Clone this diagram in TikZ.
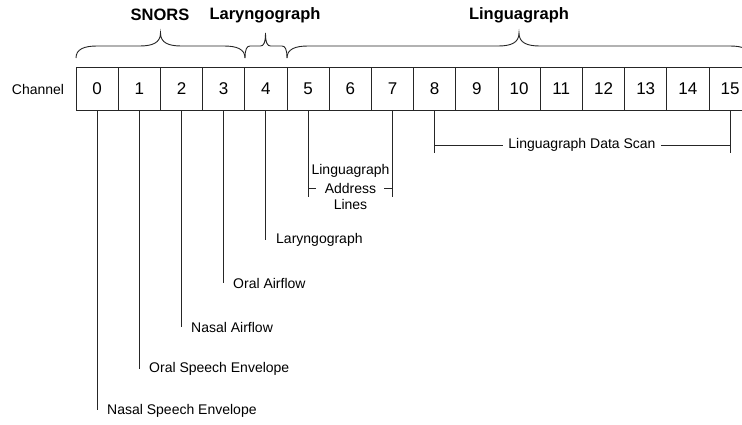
\documentclass[tikz,border=0pt]{standalone}
\usepackage{fontspec}
\setmainfont{Liberation Sans}
\newcommand{\bracedraw}[4]{% x1, x2, xm, r
  \draw[braceline] (#1,58) .. controls (#1,49) and ({#1+0.4*#4},46) .. ({#1+#4},46)
    -- ({#3-#4},46) .. controls ({#3-0.4*#4},46) and (#3,43) .. (#3,33)
    .. controls (#3,43) and ({#3+0.4*#4},46) .. ({#3+#4},46)
    -- ({#2-#4},46) .. controls ({#2-0.4*#4},46) and (#2,49) .. (#2,58);}
\begin{document}
\begin{tikzpicture}[x=1pt,y=-1pt,
  cell/.style={draw=black!85,line width=0.9pt,minimum width=42.2pt,minimum height=43pt,inner sep=0pt,
    font=\fontsize{17}{20}\selectfont},
  lbl/.style={font=\fontsize{14}{16.5}\selectfont,inner sep=0pt},
  ttl/.style={font=\fontsize{16.5}{19}\selectfont\bfseries,inner sep=0pt},
  wire/.style={draw=black!85,line width=0.9pt},
  braceline/.style={draw=black!85,line width=0.9pt}]
\useasboundingbox (0,0) rectangle (742,424);
\fill[white] (0,0) rectangle (742,424);
% titles
\node[ttl] (tsn) at (160,15) {SNORS};
\node[ttl] (tla) at (265,15) {Laryngograph};
\node[ttl] (tli) at (519,15) {Linguagraph};
% braces
\bracedraw{76}{245}{160.5}{21}
\bracedraw{245}{287}{265.5}{5}
\bracedraw{287}{751}{519}{21}
% channel label and cells
\node[lbl] (chl) at (38,89) {Channel};
\foreach \i in {0,...,15}{
  \node[cell] (c\i) at ({76+42.2*(\i+0.5)},88.5) {\i};
}
% single-channel labels
\node[lbl,anchor=west] (l0) at (107,411) {Nasal Speech Envelope};
\node[lbl,anchor=west] (l1) at (149,369) {Oral Speech Envelope};
\node[lbl,anchor=west] (l2) at (191,327) {Nasal Airflow};
\node[lbl,anchor=west] (l3) at (233,283) {Oral Airflow};
\node[lbl,anchor=west] (l4) at (276,240) {Laryngograph};
\draw[wire] (c0.south) -- ([yshift=1pt]c0.south |- l0.west);
\draw[wire] (c1.south) -- (c1.south |- l1.west);
\draw[wire] (c2.south) -- (c2.south |- l2.west);
\draw[wire] (c3.south) -- (c3.south |- l3.west);
\draw[wire] (c4.south) -- (c4.south |- l4.west);
% address lines
\node[lbl] (ala) at (350.5,171) {Linguagraph};
\node[lbl] (alb) at (350.5,188) {Address};
\node[lbl] (alc) at (350.5,204) {Lines};
\coordinate (alend) at (350.5,197);
\draw[wire] (c5.south) -- (c5.south |- alend);
\draw[wire] (c7.south) -- (c7.south |- alend);
\draw[wire] (c5.south |- alb.west) -- ([xshift=-9pt]alb.west);
\draw[wire] ([xshift=8pt]alb.east) -- (c7.south |- alb.east);
% data scan
\node[lbl,inner xsep=5pt] (ds) at (582,145) {Linguagraph Data Scan};
\coordinate (dsend) at (582,153);
\draw[wire] (c8.south) -- (c8.south |- dsend);
\draw[wire] (c15.south) -- (c15.south |- dsend);
\draw[wire] (c8.south |- ds.west) -- (ds.west);
\draw[wire] (ds.east) -- (c15.south |- ds.east);
\end{tikzpicture}
\end{document}
